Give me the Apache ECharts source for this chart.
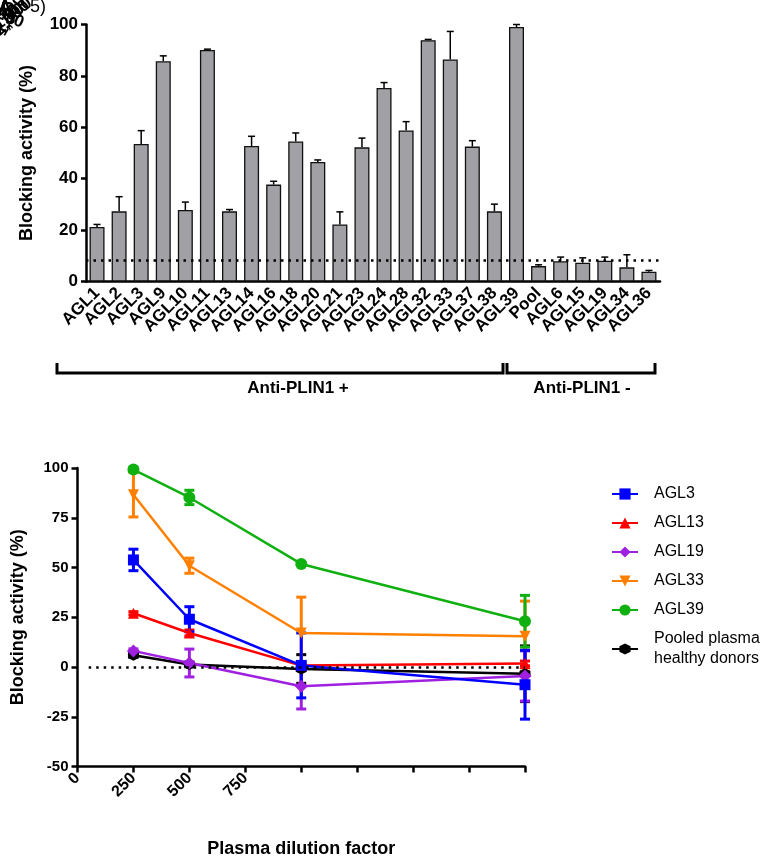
<!DOCTYPE html>
<html>
<head>
<meta charset="utf-8">
<script src="https://cdn.jsdelivr.net/npm/echarts@6/dist/echarts.min.js"></script>
<style>
html,body{margin:0;padding:0;background:#fff;}
#chart{width:771px;height:857px;}
</style>
</head>
<body>
<div id="chart"></div>
<script>
// ---- Top panel: bar chart data ----
const barCategories = ['AGL1','AGL2','AGL3','AGL9','AGL10','AGL11','AGL13','AGL14','AGL16','AGL18','AGL20','AGL21','AGL23','AGL24','AGL28','AGL32','AGL33','AGL37','AGL38','AGL39','Pool','AGL6','AGL15','AGL19','AGL34','AGL36'];
const barValues = [21.2,27.3,53.5,85.7,27.8,90.1,27.3,52.7,37.7,54.5,46.5,22.2,52.2,75.3,58.8,93.9,86.4,52.5,27.3,99.0,6.0,7.9,7.3,8.1,5.5,3.8];
const barErrors = [1.0,5.7,5.2,2.1,3.1,0.3,0.7,3.8,1.3,3.3,0.8,4.9,3.6,2.1,3.4,0.3,10.9,2.3,2.8,1.0,0.5,1.6,1.9,1.4,4.9,0.5];
const barThreshold = 8.2;
const topYTicks = [0,20,40,60,80,100];
const groupLabels = ['Anti-PLIN1 +','Anti-PLIN1 -'];

// ---- Bottom panel: dilution curves ----
const dilutions = [250,500,1000,2000];
const xTickLabels = ['0','250','500','750','','','','',''];
const zeroLineStart = 50;
const seriesNames = ['AGL3','AGL13','AGL19','AGL33','AGL39','Pooled plasma\nhealthy donors'];
const agl3Mean  = [53.8,24.0,0.8,-8.9];
const agl3Sd    = [5.4,6.3,16.3,17.3];
const agl13Mean = [27.0,17.1,0.7,1.8];
const agl13Sd   = [0.8,1.5,0.8,1.2];
const agl19Mean = [8.1,2.0,-9.7,-4.5];
const agl19Sd   = [1.0,7.0,11.4,12.6];
const agl33Mean = [86.6,50.9,17.1,15.5];
const agl33Sd   = [11.2,3.8,18.0,17.6];
const agl39Mean = [99.2,85.2,51.8,23.0];
const agl39Sd   = [0.8,3.6,0.8,13.0];
const poolMean  = [5.9,1.3,-1.0,-3.4];
const poolSd    = [1.0,1.2,7.2,14.0];

const FONT = "'Liberation Sans', Arial, sans-serif";
const chart = echarts.init(document.getElementById('chart'), null, {renderer:'canvas'});

const hexPath = 'path://M5,0 L9.33,2.5 L9.33,7.5 L5,10 L0.67,7.5 L0.67,2.5 Z';
const styles = [
  {name: seriesNames[0], color:'#0000ff', symbol:'rect', size:11, rot:0, mean:agl3Mean, sd:agl3Sd},
  {name: seriesNames[1], color:'#ff0000', symbol:'triangle', size:11, rot:0, mean:agl13Mean, sd:agl13Sd},
  {name: seriesNames[2], color:'#a020e0', symbol:'diamond', size:13, rot:0, mean:agl19Mean, sd:agl19Sd},
  {name: seriesNames[3], color:'#ff8000', symbol:'triangle', size:11, rot:180, mean:agl33Mean, sd:agl33Sd},
  {name: seriesNames[4], color:'#10b010', symbol:'circle', size:12, rot:0, mean:agl39Mean, sd:agl39Sd},
  {name: seriesNames[5], color:'#000000', symbol:hexPath, size:11, rot:0, mean:poolMean, sd:poolSd}
];
const drawOrder = [5,1,3,4,2,0];

const series = [];
series.push({
  type:'bar', xAxisIndex:0, yAxisIndex:0, data: barValues, barWidth:15,
  itemStyle:{color:'#a0a0a5', borderColor:'#111', borderWidth:1.3},
  markLine:{silent:true, symbol:'none', label:{show:false},
    lineStyle:{color:'#000', type:[2.5,5], width:2.5},
    data:[{yAxis: barThreshold}]}
});
series.push({
  type:'custom', xAxisIndex:0, yAxisIndex:0, z:1,
  data: barValues.map((v,i)=>[i, v, v+barErrors[i]]),
  renderItem: function(params, api){
    const p0 = api.coord([api.value(0), api.value(1)]);
    const p1 = api.coord([api.value(0), api.value(2)]);
    const hw = 3.5;
    return {type:'group', children:[
      {type:'line', shape:{x1:p0[0],y1:p0[1],x2:p1[0],y2:p1[1]}, style:{stroke:'#000', lineWidth:1.5}},
      {type:'line', shape:{x1:p1[0]-hw,y1:p1[1],x2:p1[0]+hw,y2:p1[1]}, style:{stroke:'#000', lineWidth:1.5}}
    ]};
  }
});
drawOrder.forEach(function(k){
  const s = styles[k];
  series.push({
    type:'custom', xAxisIndex:1, yAxisIndex:1, z:2,
    data: dilutions.map((d,i)=>[d, s.mean[i]-s.sd[i], s.mean[i]+s.sd[i]]),
    renderItem: function(params, api){
      const lo = api.coord([api.value(0), api.value(1)]);
      const hi = api.coord([api.value(0), api.value(2)]);
      const hw = 5;
      const st = {stroke:s.color, lineWidth:3};
      return {type:'group', children:[
        {type:'line', shape:{x1:lo[0],y1:lo[1],x2:hi[0],y2:hi[1]}, style:st},
        {type:'line', shape:{x1:lo[0]-hw,y1:lo[1],x2:lo[0]+hw,y2:lo[1]}, style:st},
        {type:'line', shape:{x1:hi[0]-hw,y1:hi[1],x2:hi[0]+hw,y2:hi[1]}, style:st}
      ]};
    }
  });
});
drawOrder.forEach(function(k){
  const s = styles[k];
  const ser = {
    name: s.name, type:'line', xAxisIndex:1, yAxisIndex:1, z:3,
    data: dilutions.map((d,i)=>[d, s.mean[i]]),
    symbol: s.symbol, symbolSize: s.size, symbolRotate: s.rot,
    lineStyle:{color:s.color, width:2.5}, itemStyle:{color:s.color},
    showAllSymbol:true
  };
  if (k === 5) {
    ser.markLine = {silent:true, symbol:'none', label:{show:false},
      lineStyle:{color:'#000', type:[2.5,5], width:2.5},
      data:[[{coord:[zeroLineStart,0]},{coord:[dilutions[dilutions.length-1],0]}]]};
  }
  series.push(ser);
});

const axisLineStyle = {color:'#000', width:2.5};

const option = {
  animation:false,
  backgroundColor:'#fff',
  textStyle:{fontFamily:FONT},
  grid:[
    {left:86, top:24.5, width:574, height:257, containLabel:false, outerBoundsMode:'none'},
    {left:77.5, top:468, width:447.5, height:298.5, containLabel:false, outerBoundsMode:'none'}
  ],
  xAxis:[
    {type:'category', gridIndex:0, data: barCategories,
      axisLine:{lineStyle:axisLineStyle},
      axisTick:{alignWithLabel:true, length:6, lineStyle:{width:2, color:'#000'}},
      axisLabel:{interval:0, rotate:45, fontSize:17, fontWeight:'bold', color:'#000', fontFamily:FONT, margin:9},
      splitLine:{show:false}},
    {type:'value', gridIndex:1, min:0, max:2000, interval:250,
      axisLine:{onZero:false, lineStyle:axisLineStyle},
      axisTick:{length:6, lineStyle:{width:2.5, color:'#000'}},
      axisLabel:{rotate:45, fontSize:16, fontWeight:'bold', color:'#000', fontFamily:FONT, margin:9,
        formatter:function(v){ return xTickLabels[Math.round(v/250)] || ''; }},
      splitLine:{show:false},
      name:'Plasma dilution factor', nameLocation:'middle', nameGap:74,
      nameTextStyle:{fontSize:18, fontWeight:'bold', color:'#000', fontFamily:FONT}}
  ],
  yAxis:[
    {type:'value', gridIndex:0, min:0, max:100, interval:20,
      axisLine:{show:true, lineStyle:axisLineStyle},
      axisTick:{show:true, length:5, lineStyle:{width:2.5, color:'#000'}},
      axisLabel:{fontSize:17, fontWeight:'bold', color:'#000', fontFamily:FONT, margin:8,
        formatter:function(v){ return topYTicks.indexOf(v) >= 0 ? String(v) : ''; }},
      splitLine:{show:false},
      name:'Blocking activity (%)', nameLocation:'middle', nameGap:50,
      nameTextStyle:{fontSize:18, fontWeight:'bold', color:'#000', fontFamily:FONT}},
    {type:'value', gridIndex:1, min:-50, max:100, interval:25,
      axisLine:{show:true, onZero:false, lineStyle:axisLineStyle},
      axisTick:{show:true, length:6, lineStyle:{width:2.5, color:'#000'}},
      axisLabel:{fontSize:15, fontWeight:'bold', color:'#000', fontFamily:FONT, margin:9},
      splitLine:{show:false},
      name:'Blocking activity (%)', nameLocation:'middle', nameGap:50,
      nameTextStyle:{fontSize:18, fontWeight:'bold', color:'#000', fontFamily:FONT}}
  ],
  legend:{
    data: seriesNames, orient:'vertical', left:611, top:484, padding:0,
    itemWidth:26, itemHeight:14, itemGap:9,
    textStyle:{fontSize:16, color:'#000', fontFamily:FONT, lineHeight:20, padding:[0,0,0,11]}
  },
  graphic:[
    {type:'polyline', shape:{points:[[57,363],[57,373],[503,373],[503,363]]}, style:{stroke:'#000', lineWidth:3, fill:null}},
    {type:'polyline', shape:{points:[[507,363],[507,373],[655,373],[655,363]]}, style:{stroke:'#000', lineWidth:3, fill:null}},
    {type:'text', x:298, y:388, style:{text:groupLabels[0], font:'bold 17px '+FONT, fill:'#000', align:'center', verticalAlign:'middle'}},
    {type:'text', x:582, y:388, style:{text:groupLabels[1], font:'bold 17px '+FONT, fill:'#000', align:'center', verticalAlign:'middle'}},
    {type:'text', x:12, y:18, rotation:Math.PI/4, style:{text:'2,000', font:'bold 17px '+FONT, fill:'#000', align:'center', verticalAlign:'middle'}},
    {type:'text', x:11, y:16, rotation:Math.PI/3, style:{text:'1,500', font:'bold 17px '+FONT, fill:'#000', align:'center', verticalAlign:'middle'}},
    {type:'text', x:13, y:14, rotation:Math.PI/5, style:{text:'1,000', font:'bold 17px '+FONT, fill:'#000', align:'center', verticalAlign:'middle'}},
    {type:'text', x:10, y:18, rotation:-Math.PI/8, style:{text:'250', font:'bold 17px '+FONT, fill:'#000', align:'center', verticalAlign:'middle'}},
    {type:'text', x:8, y:10, style:{text:'B', font:'bold 20px '+FONT, fill:'#000', align:'center', verticalAlign:'middle'}},
    {type:'text', x:5, y:8, style:{text:'A', font:'bold 20px '+FONT, fill:'#000', align:'center', verticalAlign:'middle'}},
    {type:'text', x:30, y:7, style:{text:'5)', font:'18px '+FONT, fill:'#000', align:'left', verticalAlign:'middle'}}
  ],
  series: series
};
chart.setOption(option);
</script>
</body>
</html>
